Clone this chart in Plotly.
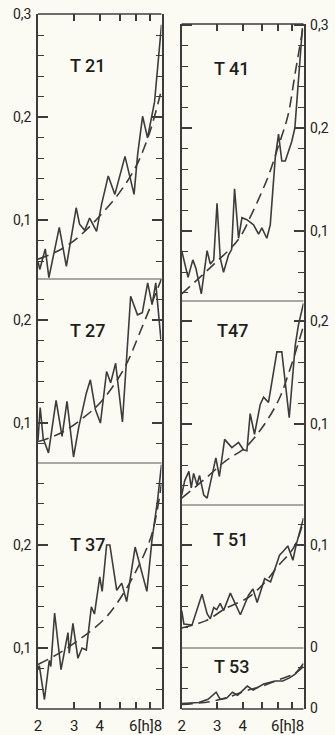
import numpy as np
import plotly.graph_objects as go

W, H = 335, 735

# ---------------- data (hours, value) ----------------
T21_h = [2.0, 2.04, 2.17, 2.26, 2.54, 2.75, 3.07, 3.19, 3.38, 3.57, 3.86, 4.08, 4.40, 4.74, 5.31, 5.88, 6.12, 6.47, 6.84, 7.4, 8.0]
T21_v = [0.060, 0.052, 0.072, 0.044, 0.093, 0.055, 0.112, 0.096, 0.090, 0.102, 0.089, 0.115, 0.143, 0.125, 0.162, 0.125, 0.164, 0.201, 0.180, 0.215, 0.290]
T21_fit_h = [2.0, 2.5, 3.0, 3.5, 4.0, 5.0, 6.0, 7.0, 8.0]
T21_fit_v = [0.062, 0.070, 0.080, 0.092, 0.104, 0.127, 0.152, 0.185, 0.227]

T27_h = [2.0, 2.05, 2.12, 2.25, 2.45, 2.62, 2.77, 2.98, 3.16, 3.44, 3.60, 3.81, 4.03, 4.32, 4.52, 4.78, 5.16, 5.66, 6.11, 6.45, 6.85, 7.2, 7.5, 7.95]
T27_v = [0.083, 0.115, 0.085, 0.071, 0.122, 0.087, 0.121, 0.067, 0.096, 0.129, 0.142, 0.113, 0.100, 0.150, 0.139, 0.158, 0.101, 0.223, 0.205, 0.207, 0.236, 0.215, 0.236, 0.181]
T27_fit_h = [2.0, 2.57, 3.22, 4.03, 5.23, 6.34, 8.0]
T27_fit_v = [0.082, 0.090, 0.103, 0.120, 0.152, 0.190, 0.240]

T37_h = [2.0, 2.03, 2.15, 2.27, 2.31, 2.41, 2.59, 2.80, 2.84, 2.96, 3.13, 3.28, 3.44, 3.64, 3.77, 4.00, 4.11, 4.32, 4.48, 4.84, 5.12, 5.41, 5.95, 6.79, 7.19, 7.66, 8.0]
T37_v = [0.079, 0.083, 0.050, 0.088, 0.082, 0.134, 0.079, 0.115, 0.095, 0.124, 0.090, 0.100, 0.098, 0.140, 0.133, 0.169, 0.155, 0.200, 0.200, 0.156, 0.163, 0.145, 0.198, 0.155, 0.205, 0.244, 0.278]
T37_fit_h = [2.0, 2.54, 3.32, 4.16, 4.84, 6.06, 7.19, 8.0]
T37_fit_v = [0.084, 0.095, 0.111, 0.127, 0.143, 0.176, 0.211, 0.260]

T41_h = [2.0, 2.15, 2.27, 2.35, 2.50, 2.67, 2.77, 2.88, 2.99, 3.10, 3.22, 3.41, 3.53, 3.65, 3.82, 3.97, 4.20, 4.53, 4.80, 4.98, 5.27, 5.48, 5.80, 6.02, 6.25, 6.50, 7.0, 7.25, 7.9]
T41_v = [0.081, 0.055, 0.072, 0.064, 0.039, 0.081, 0.068, 0.072, 0.127, 0.074, 0.060, 0.077, 0.082, 0.141, 0.093, 0.113, 0.111, 0.106, 0.097, 0.103, 0.093, 0.106, 0.171, 0.194, 0.168, 0.168, 0.187, 0.200, 0.297]
T41_fit_h = [2.0, 2.82, 3.82, 4.4, 4.9, 5.4, 6.0, 6.7, 7.3, 8.0]
T41_fit_v = [0.039, 0.066, 0.092, 0.115, 0.135, 0.155, 0.182, 0.212, 0.255, 0.300]

T47_h = [2.0, 2.07, 2.17, 2.23, 2.29, 2.38, 2.45, 2.57, 2.67, 2.95, 3.07, 3.26, 3.54, 3.82, 4.04, 4.20, 4.36, 4.58, 4.89, 5.08, 5.37, 5.91, 6.25, 6.80, 7.28, 7.55, 8.0]
T47_v = [0.031, 0.045, 0.054, 0.038, 0.052, 0.041, 0.050, 0.031, 0.028, 0.067, 0.049, 0.085, 0.077, 0.082, 0.075, 0.074, 0.110, 0.090, 0.119, 0.126, 0.121, 0.170, 0.170, 0.106, 0.176, 0.196, 0.217]
T47_fit_h = [2.0, 2.62, 3.29, 4.12, 4.98, 6.02, 6.75, 8.0]
T47_fit_v = [0.028, 0.047, 0.064, 0.077, 0.096, 0.123, 0.149, 0.195]

T51_h = [2.0, 2.05, 2.25, 2.37, 2.52, 2.67, 2.77, 2.88, 2.98, 3.10, 3.22, 3.48, 3.90, 4.28, 4.50, 4.72, 5.14, 5.50, 6.09, 6.37, 6.69, 7.09, 7.36, 8.0]
T51_v = [0.036, 0.023, 0.022, 0.035, 0.052, 0.033, 0.028, 0.039, 0.037, 0.043, 0.036, 0.053, 0.032, 0.051, 0.057, 0.044, 0.067, 0.064, 0.090, 0.094, 0.099, 0.085, 0.100, 0.126]
T51_fit_h = [2.0, 2.62, 3.29, 4.28, 5.18, 6.02, 7.14, 8.0]
T51_fit_v = [0.019, 0.026, 0.038, 0.049, 0.064, 0.080, 0.097, 0.123]

T53_h = [2.0, 2.43, 2.70, 2.96, 3.10, 3.33, 3.56, 3.78, 4.22, 4.51, 5.08, 5.79, 6.32, 6.82, 7.30, 8.0]
T53_v = [0.005, 0.006, 0.009, 0.016, 0.009, 0.010, 0.016, 0.013, 0.022, 0.018, 0.024, 0.027, 0.027, 0.030, 0.034, 0.044]
T53_fit_h = [2.0, 2.8, 3.5, 4.1, 5.0, 6.0, 7.2, 8.0]
T53_fit_v = [0.004, 0.007, 0.012, 0.017, 0.022, 0.028, 0.034, 0.041]

x_tick_vals = [2, 3, 4, 5, 6, 7, 8]
x_tick_text = ["2", "3", "4", "", "", "", ""]
x_unit_text = "6[h]8"

# ---------------- layout of panels ----------------
FONT = "Roboto, DejaVu Sans, sans-serif"
INK = "#3c3c3c"
BG = "#fbfbf3"

cols = {0: (38 / W, 161.5 / W), 1: (181.7 / W, 303.5 / W)}

panels = [
    dict(name="T 21", h=T21_h, v=T21_v, fh=T21_fit_h, fv=T21_fit_v, col=0, top=14, bot=279,
         yr=[0.0427, 0.3005], major=[0.1, 0.2, 0.3], lab=(88, 66), pos="top"),
    dict(name="T 27", h=T27_h, v=T27_v, fh=T27_fit_h, fv=T27_fit_v, col=0, top=279, bot=463,
         yr=[0.0612, 0.2398], major=[0.1, 0.2], lab=(88, 331), pos="mid"),
    dict(name="T 37", h=T37_h, v=T37_v, fh=T37_fit_h, fv=T37_fit_v, col=0, top=463, bot=709,
         yr=[0.0408, 0.2796], major=[0.1, 0.2], lab=(88, 544), pos="bottom"),
    dict(name="T 41", h=T41_h, v=T41_v, fh=T41_fit_h, fv=T41_fit_v, col=1, top=24, bot=301,
         yr=[0.0321, 0.3010], major=[0.1, 0.2, 0.3], lab=(232, 68), pos="top"),
    dict(name="T47", h=T47_h, v=T47_v, fh=T47_fit_h, fv=T47_fit_v, col=1, top=301, bot=505,
         yr=[0.0213, 0.2194], major=[0.1, 0.2], lab=(232, 331), pos="mid"),
    dict(name="T 51", h=T51_h, v=T51_v, fh=T51_fit_h, fv=T51_fit_v, col=1, top=505, bot=648,
         yr=[-0.0004, 0.1388], major=[0.0, 0.1], lab=(231, 539), pos="mid"),
    dict(name="T 53", h=T53_h, v=T53_v, fh=T53_fit_h, fv=T53_fit_v, col=1, top=648, bot=709,
         yr=[-0.0004, 0.0592], major=[0.0], lab=(232, 666), pos="bottom"),
]


def lbl(v):
    return "0" if v == 0 else ("%.1f" % v).replace(".", ",")


fig = go.Figure()
layout = dict(
    width=W, height=H, margin=dict(l=0, r=0, t=0, b=0),
    paper_bgcolor=BG, plot_bgcolor=BG, showlegend=False,
    font=dict(family=FONT, color="#222", size=14),
    annotations=[], shapes=[],
)

for i, p in enumerate(panels, start=1):
    xa = "x" if i == 1 else f"x{i}"
    ya = "y" if i == 1 else f"y{i}"
    fig.add_trace(go.Scatter(x=p["h"], y=p["v"], mode="lines", xaxis=xa, yaxis=ya,
                             line=dict(color=INK, width=1.6), hoverinfo="skip"))
    fig.add_trace(go.Scatter(x=p["fh"], y=p["fv"], mode="lines", xaxis=xa, yaxis=ya,
                             line=dict(color=INK, width=1.6, dash="11px,6px", shape="spline"),
                             hoverinfo="skip"))

    xdict = dict(type="log", range=[np.log10(2), np.log10(8)], domain=list(cols[p["col"]]),
                 anchor=ya, showline=False, showgrid=False, zeroline=False,
                 automargin=False, fixedrange=True)
    if p["pos"] == "bottom":
        xdict.update(ticks="inside", tickmode="array", tickvals=x_tick_vals, ticktext=x_tick_text,
                     ticklen=7, tickwidth=1.5, tickcolor=INK, showticklabels=True,
                     ticklabelstandoff=6,
                     tickfont=dict(size=15, family=FONT, color="#222"))
    elif p["pos"] == "top":
        xdict.update(side="top", ticks="inside", tickmode="array", tickvals=x_tick_vals[1:-1],
                     ticklen=7, tickwidth=1.5, tickcolor=INK, showticklabels=False)
    else:
        xdict.update(ticks="", showticklabels=False)

    ydict = dict(range=p["yr"], domain=[1 - p["bot"] / H, 1 - p["top"] / H], anchor=xa,
                 side="left" if p["col"] == 0 else "right",
                 showline=True, linecolor=INK, linewidth=1.6, mirror="ticks",
                 showgrid=False, zeroline=False, automargin=False, fixedrange=True,
                 ticks="inside", ticklen=10, tickwidth=1.5, tickcolor=INK,
                 tickmode="array", tickvals=p["major"], ticktext=[lbl(v) for v in p["major"]],
                 ticklabelstandoff=2,
                 tickfont=dict(size=14, family=FONT, color="#222"),
                 minor=dict(tickmode="linear", tick0=0, dtick=0.02, ticks="inside",
                            ticklen=6, tickwidth=1.3, tickcolor=INK, showgrid=False))
    layout["xaxis" if i == 1 else f"xaxis{i}"] = xdict
    layout["yaxis" if i == 1 else f"yaxis{i}"] = ydict

    # horizontal frame lines: outer edges dark, separators between panels thin
    x0, x1 = cols[p["col"]]
    top_outer = p["pos"] == "top"
    layout["shapes"].append(dict(type="line", xref="paper", yref="paper", x0=x0, x1=x1,
                                 y0=1 - p["top"] / H, y1=1 - p["top"] / H,
                                 line=dict(color=INK if top_outer else "#555",
                                           width=1.6 if top_outer else 1.2)))
    if p["pos"] == "bottom":
        layout["shapes"].append(dict(type="line", xref="paper", yref="paper", x0=x0, x1=x1,
                                     y0=1 - p["bot"] / H, y1=1 - p["bot"] / H,
                                     line=dict(color=INK, width=1.6)))

    layout["annotations"].append(dict(
        text=p["name"], x=p["lab"][0] / W, y=1 - p["lab"][1] / H, xref="paper", yref="paper",
        showarrow=False, xanchor="center", yanchor="middle",
        font=dict(size=18, family=FONT, color="#1e1e1e", weight=500)))

# last tick labels "6[h]8" set tight together, as in the original
for xr in (163.5 / W, 305.5 / W):
    layout["annotations"].append(dict(
        text=x_unit_text, x=xr, y=1 - 726 / H, xref="paper", yref="paper", showarrow=False,
        xanchor="right", yanchor="middle", font=dict(size=15, family=FONT, color="#222")))

fig.update_layout(**layout)
fig.write_html("out.html", config={"displayModeBar": False},
               post_script="document.body.style.margin='0';document.body.style.padding='0';")
